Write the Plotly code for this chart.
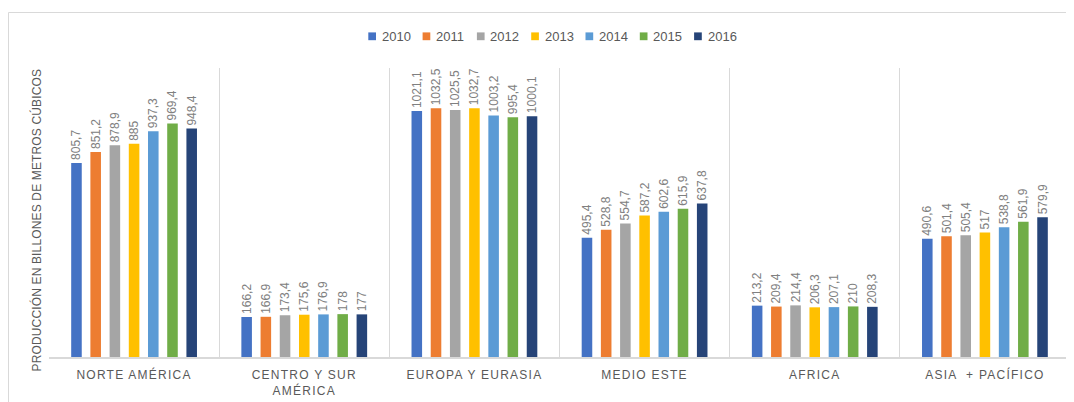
import plotly.graph_objects as go

categories = ["NORTE AMÉRICA", "CENTRO Y SUR AMÉRICA", "EUROPA Y EURASIA",
              "MEDIO ESTE", "AFRICA", "ASIA  + PACÍFICO"]
tick_labels = ["NORTE AMÉRICA", "CENTRO Y SUR<br>AMÉRICA", "EUROPA Y EURASIA",
               "MEDIO ESTE", "AFRICA", "ASIA  + PACÍFICO"]
years = ["2010", "2011", "2012", "2013", "2014", "2015", "2016"]

v2010 = [805.7, 166.2, 1021.1, 495.4, 213.2, 490.6]
v2011 = [851.2, 166.9, 1032.5, 528.8, 209.4, 501.4]
v2012 = [878.9, 173.4, 1025.5, 554.7, 214.4, 505.4]
v2013 = [885.0, 175.6, 1032.7, 587.2, 206.3, 517.0]
v2014 = [937.3, 176.9, 1003.2, 602.6, 207.1, 538.8]
v2015 = [969.4, 178.0, 995.4, 615.9, 210.0, 561.9]
v2016 = [948.4, 177.0, 1000.1, 637.8, 208.3, 579.9]
series = [v2010, v2011, v2012, v2013, v2014, v2015, v2016]

colors = ["#4472C4", "#ED7D31", "#A5A5A5", "#FFC000", "#5B9BD5", "#70AD47", "#264478"]

FONT = "Liberation Sans"
GRAY = "#595959"


def fmt(v):
    return f"{v:g}".replace(".", ",")


fig = go.Figure()
for year, vals, col in zip(years, series, colors):
    fig.add_trace(go.Bar(
        x=categories, y=vals, name=year,
        marker=dict(color=col, line=dict(width=0)),
        text=[fmt(v) for v in vals],
        textposition="outside", textangle=-90, constraintext="none",
        textfont=dict(family=FONT, size=12, color="#808080"),
        cliponaxis=False, showlegend=False,
    ))

# The page body has an 8px margin; work in window pixels and shift by OFF.
OFF = 8
W, H = 1074 - OFF, 402 - OFF
PX0, PX1, PY0, PY1 = 49, 1070, 68, 357          # plot area in window pixels
L, R, T, B = PX0 - OFF, W - (PX1 - OFF), PY0 - OFF, H - (PY1 - OFF)
pw = W - L - R
ph = H - T - B


def px_x(p):
    return (p - OFF - L) / pw


def px_y(p):
    return (H - B - (p - OFF)) / ph


SP = "letter-spacing:1.25px"
styled_ticks = [f'<span style="{SP}">' + t.replace("<br>", f'</span><br><span style="{SP}">') + "</span>"
                for t in tick_labels]

# legend drawn as swatches + labels (compact, Excel-like)
shapes = [dict(type="rect", xref="paper", yref="paper",
               x0=px_x(8.5), x1=px_x(1090), y0=px_y(420), y1=px_y(12.5),
               line=dict(color="#d9d9d9", width=1), fillcolor="rgba(0,0,0,0)", layer="below")]
annotations = []
LEG_X0, LEG_STEP, LEG_Y = 368.3, 54.3, 36.3
for i, (year, col) in enumerate(zip(years, colors)):
    sx = LEG_X0 + LEG_STEP * i
    shapes.append(dict(type="rect", xref="paper", yref="paper",
                       x0=px_x(sx), x1=px_x(sx + 7.7), y0=px_y(LEG_Y + 3.9), y1=px_y(LEG_Y - 3.9),
                       line=dict(width=0), fillcolor=col))
    annotations.append(dict(text=year, xref="paper", yref="paper",
                            x=px_x(sx + 11.5), y=px_y(LEG_Y), xanchor="left", yanchor="middle",
                            showarrow=False, font=dict(family=FONT, size=13, color=GRAY)))

# y-axis title (Excel places it slightly below the plot centre)
annotations.append(dict(
    text='<span style="letter-spacing:0.15px">PRODUCCIÓN EN BILLONES DE METROS CÚBICOS</span>',
    xref="paper", yref="paper", x=px_x(35.5), y=px_y(220), xanchor="center", yanchor="middle",
    textangle=-90, showarrow=False, font=dict(family=FONT, size=12, color=GRAY)))

fig.update_layout(
    width=W, height=H,
    margin=dict(l=L, r=R, t=T, b=B, autoexpand=False),
    paper_bgcolor="white", plot_bgcolor="white",
    barmode="group", bargap=0.21, bargroupgap=0.45,
    font=dict(family=FONT, color=GRAY),
    showlegend=False,
    xaxis=dict(
        type="category", tickmode="array", tickvals=categories, ticktext=styled_ticks,
        tickson="boundaries", showgrid=True, gridcolor="#d9d9d9", gridwidth=1,
        ticks="", showline=True, linecolor="#d9d9d9", linewidth=1.5,
        tickfont=dict(family=FONT, size=12, color=GRAY), ticklabelstandoff=6,
        automargin=False,
    ),
    yaxis=dict(
        range=[0, 1200], showticklabels=False, showgrid=False, zeroline=False,
        showline=False, ticks="", automargin=False,
    ),
    shapes=shapes,
    annotations=annotations,
)

fig.write_html("out.html")
